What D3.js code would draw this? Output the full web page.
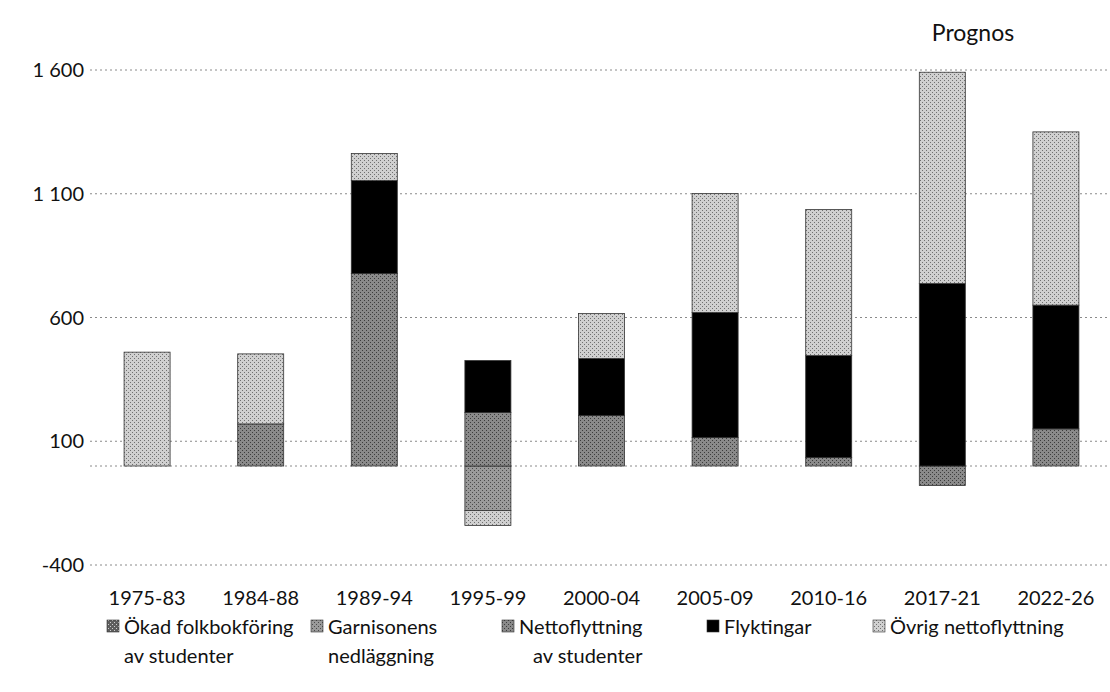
<!DOCTYPE html>
<html>
<head>
<meta charset="utf-8">
<script src="https://cdn.jsdelivr.net/npm/d3@7"></script>
<style>
  body { margin: 0; background: #fff; }
  svg text { font-family: Lato, "Open Sans", sans-serif; fill: #111; }
</style>
</head>
<body>
<svg id="chart" width="1110" height="692"></svg>
<script>
// periods on the x axis
const periods = ["1975-83","1984-88","1989-94","1995-99","2000-04","2005-09","2010-16","2017-21","2022-26"]
// series, bottom of the stack first
const seriesNames = ["Ökad folkbokföring av studenter","Garnisonens nedläggning","Nettoflyttning av studenter","Flyktingar","Övrig nettoflyttning"]
const okadFolkbokforing = [0, 0, 0, 0, 0, 0, 0, 0, 0]
const garnisonen        = [0, 0, 0, -180, 0, 0, 0, 0, 0]
const nettoStudenter    = [0, 170, 778, 216, 204, 115, 34, -79, 150]
const flyktingar        = [0, 0, 375, 210, 230, 505, 412, 737, 500]
const ovrigNetto        = [460, 283, 110, -60, 182, 481, 590, 854, 700]
const yTicks = [-400, 100, 600, 1100, 1600]

const svg = d3.select("#chart")
const margin = {top: 70, left: 90, right: 1113, bottom: 565}

// pattern fills to imitate the printed raster
const patternDefs = [
  {id: "p0", base: "#5e5e5e", dot: "#cfcfcf"},
  {id: "p1", base: "#9a9a9a", dot: "#4a4a4a"},
  {id: "p2", base: "#8a8a8a", dot: "#3c3c3c"},
  {id: "p3", base: "#000000", dot: "#000000"},
  {id: "p4", base: "#d0d0d0", dot: "#707070"}
]
const defs = svg.append("defs")
patternDefs.forEach(p => {
  let pat = defs.append("pattern").attr("id", p.id)
    .attr("width", 4).attr("height", 4).attr("patternUnits", "userSpaceOnUse")
  pat.append("rect").attr("width", 4).attr("height", 4).attr("fill", p.base)
  pat.append("rect").attr("x", 0).attr("y", 0).attr("width", 1).attr("height", 1).attr("fill", p.dot)
  pat.append("rect").attr("x", 2).attr("y", 2).attr("width", 1).attr("height", 1).attr("fill", p.dot)
})

const rows = periods.map((p, i) => ({
  period: p,
  [seriesNames[0]]: okadFolkbokforing[i],
  [seriesNames[1]]: garnisonen[i],
  [seriesNames[2]]: nettoStudenter[i],
  [seriesNames[3]]: flyktingar[i],
  [seriesNames[4]]: ovrigNetto[i]
}))

const stacked = d3.stack().keys(seriesNames).offset(d3.stackOffsetDiverging)(rows)

const x = d3.scaleBand().domain(periods).range([margin.left, margin.right]).paddingInner(0.595).paddingOuter(0.3)
const y = d3.scaleLinear().domain([-400, 1600]).range([margin.bottom, margin.top])

const sv = d3.formatLocale({decimal: ",", thousands: " ", grouping: [3], currency: ["", " kr"], minus: "-"})
const fmt = sv.format(",d")

// grid lines
svg.append("g").selectAll("line").data(yTicks.concat([0])).enter().append("line")
  .attr("x1", 90).attr("x2", 1110)
  .attr("y1", d => y(d)).attr("y2", d => y(d))
  .attr("stroke", "#8a8a8a").attr("stroke-width", 1)
  .attr("stroke-dasharray", "2,3")

// y axis labels
svg.append("g").selectAll("text").data(yTicks).enter().append("text")
  .attr("x", 84).attr("y", d => y(d)).attr("dy", "0.35em")
  .attr("text-anchor", "end").style("font-size", "20px")
  .text(d => fmt(d))

// bars
svg.append("g").selectAll("g").data(stacked).enter().append("g")
  .attr("fill", (d, i) => "url(#p" + i + ")")
  .selectAll("rect").data(d => d.filter(s => s[1] - s[0] !== 0)).enter().append("rect")
  .attr("x", d => x(d.data.period))
  .attr("width", x.bandwidth())
  .attr("y", d => y(Math.max(d[0], d[1])))
  .attr("height", d => Math.abs(y(d[0]) - y(d[1])))
  .attr("stroke", "#333").attr("stroke-width", 0.8)

// x axis labels
svg.append("g").selectAll("text").data(periods).enter().append("text")
  .attr("x", d => x(d) + x.bandwidth() / 2).attr("y", 605)
  .attr("text-anchor", "middle").style("font-size", "20px")
  .text(d => d)

svg.append("text").attr("x", 973).attr("y", 41).attr("text-anchor", "middle")
  .style("font-size", "23px").text("Prognos")

// legend
const legendX = [107, 311, 502, 707, 873]
const legendLines = [["Ökad folkbokföring", "av studenter"], ["Garnisonens", "nedläggning"], ["Nettoflyttning", "av studenter"], ["Flyktingar"], ["Övrig nettoflyttning"]]
const legendIndent = [0, 0, 14, 0, 0]
const lg = svg.append("g").selectAll("g").data(seriesNames).enter().append("g")
lg.append("rect")
  .attr("x", (d, i) => legendX[i]).attr("y", 620)
  .attr("width", 12).attr("height", 12)
  .attr("fill", (d, i) => "url(#p" + i + ")").attr("stroke", "#333").attr("stroke-width", 0.6)
lg.append("text")
  .attr("x", (d, i) => legendX[i] + 17).attr("y", 634)
  .style("font-size", "20px")
  .text((d, i) => legendLines[i][0])
lg.filter((d, i) => legendLines[i].length > 1).append("text")
  .attr("x", d => legendX[seriesNames.indexOf(d)] + 17 + legendIndent[seriesNames.indexOf(d)]).attr("y", 663)
  .style("font-size", "20px")
  .text(d => legendLines[seriesNames.indexOf(d)][1])
</script>
</body>
</html>
